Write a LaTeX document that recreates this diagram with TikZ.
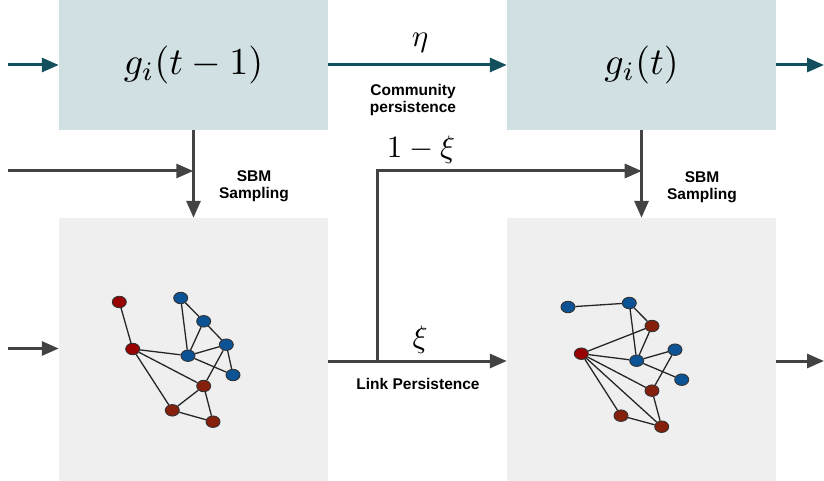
\documentclass[tikz,border=0pt]{standalone}
\usepackage{graphicx}
\usepackage{fontspec}
\newfontfamily\labelfont{Liberation Sans}
\usetikzlibrary{arrows.meta,shapes.geometric}
\definecolor{boxblue}{HTML}{D0E0E3}
\definecolor{boxgray}{HTML}{EFEFEF}
\definecolor{darkteal}{HTML}{134F5C}
\definecolor{arrowgray}{HTML}{434343}
\definecolor{nodered}{HTML}{990000}
\definecolor{nodeblue}{HTML}{0B5394}
\definecolor{nodebrown}{HTML}{85200C}
\tikzset{%
  tipA/.tip={Triangle[length=17pt,width=14pt]},
  statebox/.style={fill=boxblue, draw=none, minimum width=269pt, minimum height=130pt, inner sep=0pt},
  graphbox/.style={fill=boxgray, draw=none, minimum width=269pt, minimum height=263pt, inner sep=0pt},
  tealarrow/.style={color=darkteal, line width=3pt, -tipA},
  grayarrow/.style={color=arrowgray, line width=3pt, -tipA},
  steplabel/.style={font=\labelfont\bfseries\fontsize{15.5}{17.5}\selectfont, align=center, inner sep=0pt},
  vtx/.style={ellipse, draw=black!80, line width=0.9pt, minimum width=14pt, minimum height=11.5pt, inner sep=0pt},
  vred/.style={vtx, fill=nodered},
  vblue/.style={vtx, fill=nodeblue},
  vbrown/.style={vtx, fill=nodebrown},
  edge/.style={color=black!85, line width=1.3pt}
}

\begin{document}
\begin{tikzpicture}[x=1pt,y=-1pt]
\useasboundingbox (0,0) rectangle (824,481);

\node[statebox] (gprev) at (193.5,65) {\scalebox{3.8}{$g_i(t-1)$}};
\node[statebox] (gcur) at (641.5,65) {\scalebox{3.8}{$g_i(t)$}};
\node[graphbox] (sbmL) at (193.5,349.5) {};
\node[graphbox] (sbmR) at (641.5,349.5) {};

\coordinate (inA) at (8,65);
\coordinate (outA) at (824,65);
\coordinate (inB) at (8,171);
\coordinate (jL) at (193.3,171);
\coordinate (jR) at (641.7,171);
\coordinate (inC) at (8,348.5);
\coordinate (outC) at (824,361);
\coordinate (split) at (377.5,361);

\draw[tealarrow] (inA) -- (gprev);
\draw[tealarrow] (gprev) -- (gcur);
\draw[tealarrow] (gcur) -- (outA);

\draw[grayarrow] (gprev) -- (sbmL);
\draw[grayarrow] (gcur) -- (sbmR);
\draw[grayarrow] (inB) -- (jL);
\draw[grayarrow] (split) |- (jR);
\draw[grayarrow] (sbmL.east |- split) -- (sbmR.west |- split);
\draw[grayarrow] (inC) -- (sbmL.west |- inC);
\draw[grayarrow] (sbmR.east |- outC) -- (outC);

\node (eta) at (420,43) {\scalebox{3.1}{$\eta$}};
\node[steplabel] (commlab) at (413,100) {Community\\persistence};
\node (oneminus) at (421,150) {\scalebox{3.1}{$1-\xi$}};
\node (xi) at (420,340) {\scalebox{3.1}{$\xi$}};
\node[steplabel] (linklab) at (418,384) {Link Persistence};
\node[steplabel] (sbmlabL) at (254,186) {SBM\\Sampling};
\node[steplabel] (sbmlabR) at (702,187) {SBM\\Sampling};

\node[vred] (a1) at (119.3,302) {};
\node[vred] (a2) at (132.7,349) {};
\node[vblue] (a3) at (180.7,298) {};
\node[vblue] (a4) at (203.7,321.3) {};
\node[vblue] (a5) at (226.3,344.7) {};
\node[vblue] (a6) at (188,355.7) {};
\node[vblue] (a7) at (233,375) {};
\node[vbrown] (a8) at (203.7,386) {};
\node[vbrown] (a9) at (172.3,410.3) {};
\node[vbrown] (a10) at (213,421.7) {};

\node[vblue] (b1) at (568,307) {};
\node[vblue] (b2) at (629.3,303) {};
\node[vbrown] (b3) at (652,326) {};
\node[vred] (b4) at (581.3,353.7) {};
\node[vblue] (b5) at (636.7,360.7) {};
\node[vblue] (b6) at (675,349.7) {};
\node[vblue] (b7) at (681.7,379.7) {};
\node[vbrown] (b8) at (652,390.7) {};
\node[vbrown] (b9) at (621,415.7) {};
\node[vbrown] (b10) at (661.7,426.7) {};

\foreach \p/\q in {a1/a2, a2/a6, a2/a8, a2/a9, a3/a4, a3/a6, a4/a6, a4/a5, a5/a6, a5/a7, a6/a7, a5/a8, a8/a9, a8/a10, a9/a10}
  \draw[edge] (\p) -- (\q);
\foreach \p/\q in {b1/b2, b2/b3, b2/b5, b3/b5, b3/b4, b4/b5, b4/b8, b4/b9, b4/b10, b5/b6, b5/b7, b6/b8, b8/b10, b9/b10}
  \draw[edge] (\p) -- (\q);
\end{tikzpicture}
\end{document}
